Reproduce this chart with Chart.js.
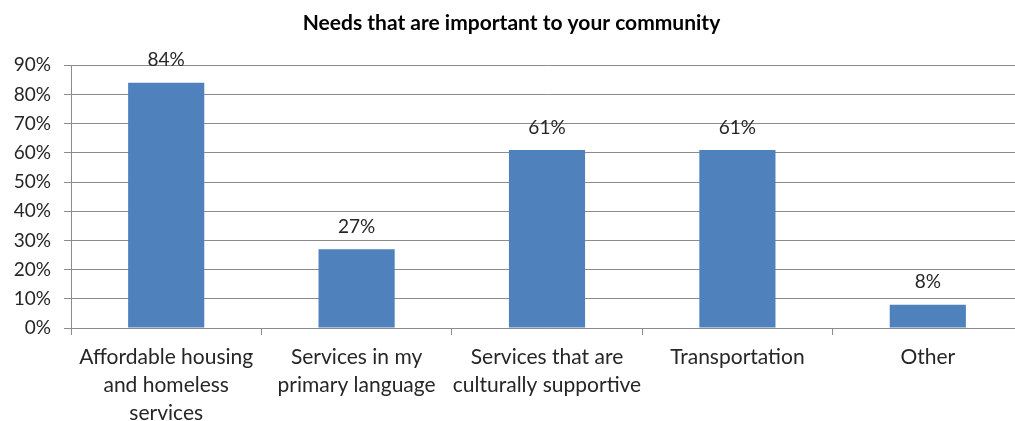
<!DOCTYPE html>
<html>
<head>
<meta charset="utf-8">
<script src="https://cdn.jsdelivr.net/npm/chart.js@4/dist/chart.umd.min.js"></script>
<style>
  html, body { margin: 0; padding: 0; background: #fff; overflow: hidden; }
  #wrap { width: 1045px; height: 421px; }
</style>
</head>
<body>
<div id="wrap"><canvas id="needs" width="1045" height="421"></canvas></div>
<script>
const categories = [
  ['Affordable housing', 'and homeless', 'services'],
  ['Services in my', 'primary language'],
  ['Services that are', 'culturally supportive'],
  'Transportation',
  'Other'
];
const shares = [84, 27, 61, 61, 8];
const yTicks = [0, 10, 20, 30, 40, 50, 60, 70, 80, 90];

const FONT = 'Lato, "Open Sans", sans-serif';
const GRID = '#8c8c8c';

// writes "NN%" above each bar
const valueLabels = {
  id: 'valueLabels',
  afterDatasetsDraw(chart) {
    const ctx = chart.ctx;
    const meta = chart.getDatasetMeta(0);
    ctx.save();
    ctx.font = '19px ' + FONT;
    ctx.fillStyle = '#262626';
    ctx.textAlign = 'center';
    ctx.textBaseline = 'bottom';
    meta.data.forEach((bar, i) => {
      ctx.fillText(shares[i] + '%', bar.x, bar.y - 13);
    });
    ctx.restore();
  }
};

new Chart(document.getElementById('needs'), {
  type: 'bar',
  data: {
    labels: categories,
    datasets: [{
      data: shares,
      backgroundColor: '#4f81bd',
      borderWidth: 0,
      barPercentage: 0.8,
      categoryPercentage: 0.5
    }]
  },
  options: {
    responsive: false,
    animation: false,
    layout: { padding: { left: 0, right: 22, top: 0, bottom: 0 } },
    plugins: {
      legend: { display: false },
      tooltip: { enabled: false },
      title: {
        display: true,
        text: 'Needs that are important to your community',
        color: '#000',
        font: { family: FONT, size: 21, weight: 'bold' },
        padding: { top: 11, bottom: 29 }
      }
    },
    scales: {
      x: {
        grid: {
          offset: true,
          drawOnChartArea: false,
          drawTicks: true,
          tickLength: 7,
          color: GRID
        },
        border: { color: GRID },
        ticks: {
          color: '#262626',
          font: { family: FONT, size: 21, lineHeight: 28 / 21 },
          padding: 8,
          maxRotation: 0,
          autoSkip: false
        },
        afterFit(scale) { scale.height = 93; }
      },
      y: {
        min: 0,
        max: 90,
        afterBuildTicks(scale) { scale.ticks = yTicks.map(v => ({ value: v })); },
        grid: { color: GRID, tickLength: 7, drawTicks: true },
        border: { color: GRID },
        ticks: {
          color: '#262626',
          font: { family: FONT, size: 19 },
          padding: 13,
          callback: v => v + '%'
        },
        afterFit(scale) { scale.width = 71; }
      }
    }
  },
  plugins: [valueLabels]
});
</script>
</body>
</html>
